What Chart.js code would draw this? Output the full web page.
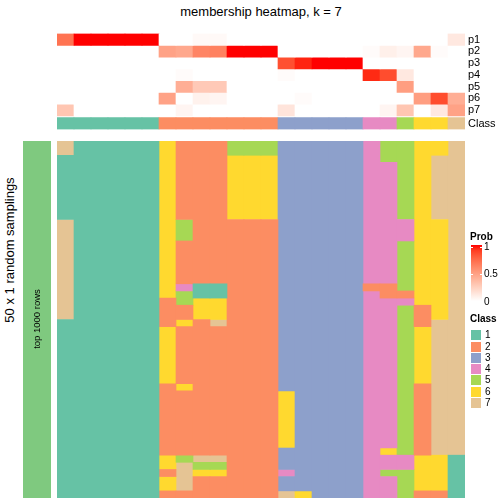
<!DOCTYPE html>
<html>
<head>
<meta charset="utf-8">
<script src="https://cdn.jsdelivr.net/npm/chart.js@4.4.1/dist/chart.umd.min.js"></script>
<style>
  body { margin: 0; background: #fff; font-family: "Liberation Sans", Arial, sans-serif; }
  #wrap { position: relative; width: 504px; height: 504px; overflow: hidden; }
  canvas { position: absolute; }
  .txt { position: absolute; white-space: nowrap; color: #000; }
  #title { left: 57px; top: 4px; width: 408px; text-align: center; font-size: 13px; line-height: 16px; }
  #sideTitle { left: -90px; top: 242px; width: 200px; height: 16px; text-align: center;
    font-size: 13px; line-height: 16px; transform: rotate(-90deg); }
  #groupLabel { left: -13px; top: 313px; width: 100px; height: 12px; text-align: center;
    font-size: 9.5px; line-height: 12px; transform: rotate(-90deg); }
</style>
</head>
<body>
<div id="wrap">
  <div class="txt" id="title">membership heatmap, k = 7</div>
  <div class="txt" id="sideTitle">50 x 1 random samplings</div>
  <canvas id="groupChart" width="28" height="357" style="left:23px;top:141px"></canvas>
  <div class="txt" id="groupLabel">top 1000 rows</div>
  <canvas id="annotChart" width="447" height="115" style="left:57px;top:24px"></canvas>
  <canvas id="mainChart" width="408" height="357" style="left:57px;top:141px"></canvas>
  <div id="legend"></div>
</div>
<script>
// samples (columns)
var samples = ["s1", "s2", "s3", "s4", "s5", "s6", "s7", "s8", "s9", "s10", "s11", "s12",
  "s13", "s14", "s15", "s16", "s17", "s18", "s19", "s20", "s21", "s22", "s23", "s24"];

// membership probabilities
var p1 = [0.70, 1, 1, 1, 1, 1, 0, 0, 0.03, 0.03, 0, 0, 0, 0, 0, 0, 0, 0, 0, 0, 0, 0, 0, 0.12];
var p2 = [0, 0, 0, 0, 0, 0, 0.48, 0.45, 0.62, 0.64, 1, 1, 1, 0, 0, 0, 0, 0, 0.02, 0.08, 0.05, 0.45, 0.02, 0];
var p3 = [0, 0, 0, 0, 0, 0, 0, 0, 0, 0, 0, 0, 0, 0.84, 0.96, 1, 1, 1, 0, 0, 0, 0, 0, 0];
var p4 = [0, 0, 0, 0, 0, 0, 0, 0.02, 0, 0, 0, 0, 0, 0.02, 0, 0, 0, 0, 0.95, 0.85, 0.12, 0, 0, 0];
var p5 = [0, 0, 0, 0, 0, 0, 0, 0.42, 0.28, 0.28, 0, 0, 0, 0, 0, 0, 0, 0, 0, 0, 0.5, 0, 0, 0];
var p6 = [0, 0, 0, 0, 0, 0, 0.48, 0, 0.07, 0.05, 0, 0, 0, 0, 0.02, 0, 0, 0, 0, 0, 0, 0.5, 0.85, 0.42];
var p7 = [0.30, 0, 0, 0, 0, 0, 0, 0.05, 0, 0, 0, 0, 0, 0.14, 0, 0, 0, 0, 0, 0.05, 0.3, 0, 0.12, 0.48];
var probRows = [p1, p2, p3, p4, p5, p6, p7];
var annotLabels = ["p1", "p2", "p3", "p4", "p5", "p6", "p7", "Class"];

// consensus class of each sample
var sampleClass = [1, 1, 1, 1, 1, 1, 2, 2, 2, 2, 2, 2, 2, 3, 3, 3, 3, 3, 4, 4, 5, 6, 6, 7];

// class of each sample in each of the 50 random samplings (one string per sampling)
var samplingClass = [
  "711111622255533333455667",
  "711111622255533333455667",
  "111111622266633333455677",
  "111111622266633333445677",
  "111111622266633333445677",
  "111111622266633333445677",
  "111111622266633333445677",
  "111111622266633333445677",
  "111111622266633333445677",
  "111111622266633333445677",
  "111111622266633333445677",
  "711111652222233333444667",
  "711111652222233333444667",
  "711111652222233333444667",
  "711111622222233333445667",
  "711111622222233333445667",
  "711111622222233333445667",
  "711111622222233333445667",
  "711111622222233333445667",
  "711111622222233333445667",
  "711111641122233333225667",
  "711111651122233333422667",
  "711111256622233333444667",
  "711111226622233333445267",
  "711111226622233333445267",
  "111111262722233333445277",
  "111111622222233333445677",
  "111111622222233333445677",
  "111111622222233333445677",
  "111111622222233333445677",
  "111111622222233333445677",
  "111111622222233333445677",
  "111111622222233333445677",
  "111111622222233333445677",
  "111111262222233333445277",
  "111111222222263333445277",
  "111111222222263333445277",
  "111111222222263333445277",
  "111111222222263333445277",
  "111111222222263333445277",
  "111111222222263333445277",
  "111111222222263333445277",
  "111111222222263333445277",
  "111111222222233333465277",
  "111111657722233333444661",
  "111111675522233333444661",
  "111111276622243333455661",
  "111111672222233333445661",
  "111111672222233333445661",
  "111111222222276333445221"
];

var classNames = ["1", "2", "3", "4", "5", "6", "7"];
var classColors = ["#66C2A5", "#FC8D62", "#8DA0CB", "#E78AC3", "#A6D854", "#FFD92F", "#E5C494"];
var probBreaks = [1, 0.5, 0];
var samplingGroups = ["top 1000 rows"];
var groupColors = ["#7FC97F"];

Chart.defaults.font.family = '"Liberation Sans", Arial, sans-serif';
Chart.defaults.color = "#000";

// white -> red, interpolated in LAB like colorRamp2
function labToRgb(L, a, b) {
  var fy = (L + 16) / 116, fx = fy + a / 500, fz = fy - b / 200;
  function finv(t) { return t > 6 / 29 ? t * t * t : 3 * (6 / 29) * (6 / 29) * (t - 4 / 29); }
  var X = 0.95047 * finv(fx), Y = finv(fy), Z = 1.08883 * finv(fz);
  var r = 3.2406 * X - 1.5372 * Y - 0.4986 * Z;
  var g = -0.9689 * X + 1.8758 * Y + 0.0415 * Z;
  var bl = 0.0557 * X - 0.2040 * Y + 1.0570 * Z;
  function gam(c) {
    c = Math.max(0, Math.min(1, c));
    return Math.round(255 * (c <= 0.0031308 ? 12.92 * c : 1.055 * Math.pow(c, 1 / 2.4) - 0.055));
  }
  return "rgb(" + gam(r) + "," + gam(g) + "," + gam(bl) + ")";
}
function probColor(v) {
  return labToRgb(100 - (100 - 53.24) * v, 80.09 * v, 67.22 * v);
}

var noUi = { legend: { display: false }, tooltip: { enabled: false } };

// top annotation: p1..p7 and Class
var classGap = 0.15;
var annotDatasets = probRows.map(function (row, r) {
  return {
    data: row.map(function () { return [r, r + 1]; }),
    backgroundColor: row.map(probColor)
  };
});
annotDatasets.push({
  data: sampleClass.map(function () { return [7 + classGap, 8 + classGap]; }),
  backgroundColor: sampleClass.map(function (k) { return classColors[k - 1]; })
});

new Chart(document.getElementById("annotChart"), {
  type: "bar",
  data: { labels: samples, datasets: annotDatasets },
  options: {
    responsive: false,
    animation: false,
    events: [],
    layout: { padding: 0 },
    datasets: { bar: { grouped: false, barPercentage: 1, categoryPercentage: 1, borderWidth: 0 } },
    plugins: noUi,
    scales: {
      x: { display: false },
      y: {
        position: "right",
        min: 0,
        max: 8 + classGap,
        reverse: true,
        grid: { display: false, drawTicks: false },
        border: { display: false },
        afterBuildTicks: function (scale) {
          scale.ticks = annotLabels.map(function (l, i) {
            return { value: (i < 7 ? i : 7 + classGap) + 0.5 };
          });
        },
        afterFit: function (scale) { scale.width = 39; },
        ticks: {
          autoSkip: false,
          padding: 3,
          font: { size: 11 },
          callback: function (v, i) { return annotLabels[i]; }
        }
      }
    }
  }
});

// main heatmap: merge runs of equal class down each column
var runs = classNames.map(function () { return []; });
samples.forEach(function (name, c) {
  var start = 0;
  for (var r = 1; r <= samplingClass.length; r++) {
    if (r === samplingClass.length || samplingClass[r][c] !== samplingClass[start][c]) {
      runs[+samplingClass[start][c] - 1].push({ x: name, y: [start, r] });
      start = r;
    }
  }
});

new Chart(document.getElementById("mainChart"), {
  type: "bar",
  data: {
    labels: samples,
    datasets: classNames.map(function (n, i) {
      return { label: n, data: runs[i], backgroundColor: classColors[i] };
    })
  },
  options: {
    responsive: false,
    animation: false,
    events: [],
    layout: { padding: 0 },
    datasets: { bar: { grouped: false, barPercentage: 1, categoryPercentage: 1, borderWidth: 0 } },
    plugins: noUi,
    scales: {
      x: { display: false },
      y: { display: false, min: 0, max: samplingClass.length, reverse: true }
    }
  }
});

// sampling group bar on the left
new Chart(document.getElementById("groupChart"), {
  type: "bar",
  data: {
    labels: samplingGroups,
    datasets: [{ data: [[0, 1]], backgroundColor: groupColors }]
  },
  options: {
    responsive: false,
    animation: false,
    events: [],
    layout: { padding: 0 },
    datasets: { bar: { barPercentage: 1, categoryPercentage: 1, borderWidth: 0 } },
    plugins: noUi,
    scales: { x: { display: false }, y: { display: false, min: 0, max: 1 } }
  }
});

// legends
var legend = document.getElementById("legend");
function put(html, css) {
  var d = document.createElement("div");
  d.className = "txt";
  d.innerHTML = html;
  d.style.cssText = css;
  legend.appendChild(d);
  return d;
}
put("Prob", "left:470px;top:230px;font-size:10px;font-weight:bold;line-height:14px;");
var stops = [];
for (var s = 0; s <= 10; s++) stops.push(probColor(1 - s / 10) + " " + (s * 10) + "%");
put("", "left:471px;top:245px;width:11px;height:56px;background:linear-gradient(to bottom," + stops.join(",") + ");");
probBreaks.forEach(function (v) {
  var y = 301.5 - v * 54.5;
  put(String(v), "left:484px;top:" + (y - 7) + "px;font-size:10px;line-height:14px;");
  if (v > 0) {
    put("", "left:471px;top:" + Math.round(y) + "px;width:2px;height:1px;background:#fff;");
    put("", "left:480px;top:" + Math.round(y) + "px;width:2px;height:1px;background:#fff;");
  }
});
put("Class", "left:470px;top:312px;font-size:10px;font-weight:bold;line-height:14px;");
classNames.forEach(function (n, i) {
  var yc = 335.3 + i * 11.25;
  put("", "left:471px;top:" + (yc - 5) + "px;width:10px;height:10px;background:" + classColors[i] + ";");
  put(n, "left:485px;top:" + (yc - 7) + "px;font-size:10px;line-height:14px;");
});
</script>
</body>
</html>
